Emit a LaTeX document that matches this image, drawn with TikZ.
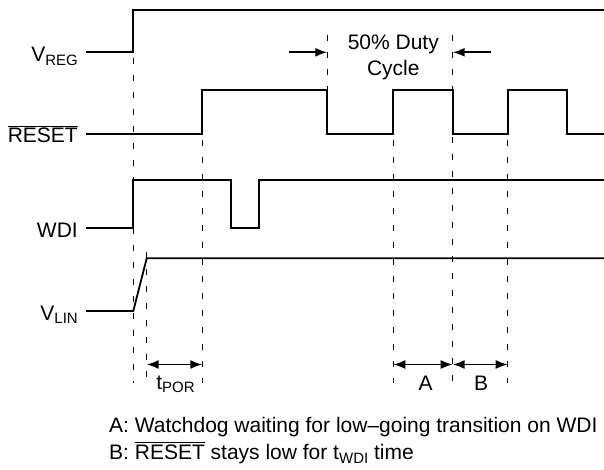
\documentclass[tikz,border=0pt]{standalone}
\usepackage{fontspec}
\setmainfont{Liberation Sans}
\usetikzlibrary{arrows.meta}

\newcommand\subtxt[1]{\raisebox{-3.5pt}{\fontsize{15}{15}\selectfont #1}}
\newcommand\ovl[1]{\leavevmode\vbox{\hrule height 0.9pt\kern 1.8pt\hbox{#1}}}

\begin{document}
\begin{tikzpicture}[x=1pt,y=-1pt,
    sig/.style={line width=1.8pt},
    guide/.style={line width=0.8pt,dash pattern=on 6pt off 11pt},
    dim/.style={line width=1.8pt,{Latex[length=12pt,width=9pt]}-{Latex[length=12pt,width=9pt]}},
    push/.style={line width=1.8pt,-{Latex[length=12pt,width=9pt]}},
    lbl/.style={inner sep=0pt,font=\fontsize{21}{25}\selectfont}]
    \useasboundingbox (0,0) rectangle (604,470);

    % signals
    \draw[sig] (86,52.3) -- (133.3,52.3) -- (133.3,10) -- (604,10);
    \draw[sig] (86,134.3) -- (202.3,134.3) |- (327.3,90) |- (393.3,134.3) |- (452.7,90)
        |- (507.7,134.3) |- (567.3,90) |- (604,134.3);
    \draw[sig] (86,228.3) -- (133.3,228.3) |- (231,180) |- (258.7,228.3) |- (604,180);
    \draw[sig] (86,311) -- (133.3,311) -- (146.7,258.3) -- (604,258.3);

    % dashed guides
    \foreach \x/\a/\b in {133.3/58/383, 146.7/252/383, 202.3/140/383, 327.3/35/90,
                          393.3/140/383, 452.7/35/383, 507.7/140/383}
        \draw[guide] (\x,\a) -- (\x,\b);

    % signal names
    \node[lbl,anchor=base east] (vreg) at (78,62) {V\subtxt{REG}};
    \node[lbl,anchor=base east] (reset) at (78,143) {\ovl{RESET}};
    \node[lbl,anchor=base east] (wdi) at (78,237) {WDI};
    \node[lbl,anchor=base east] (vlin) at (78,320) {V\subtxt{LIN}};

    % duty cycle
    \node[lbl,anchor=base] (duty) at (393.3,50) {50\% Duty};
    \node[lbl,anchor=base] (cycle) at (393.3,76) {Cycle};
    \coordinate (dl) at (289,52.3);
    \coordinate (dl') at (327.3,52.3);
    \coordinate (dr) at (490.7,52.3);
    \coordinate (dr') at (452.7,52.3);
    \draw[push] (dl) -- (dl');
    \draw[push] (dr) -- (dr');

    % timing intervals
    \coordinate (p1) at (146.7,364.5);
    \coordinate (p2) at (202.3,364.5);
    \coordinate (a1) at (393.3,364.5);
    \coordinate (a2) at (452.7,364.5);
    \coordinate (b2) at (507.7,364.5);
    \draw[dim] (p1) -- (p2);
    \draw[dim] (a1) -- (a2);
    \draw[dim] (a2) -- (b2);
    \node[lbl,anchor=base] (tpor) at (175.5,389) {t\subtxt{POR}};
    \node[lbl,anchor=base] (ta) at (425.7,390) {A};
    \node[lbl,anchor=base] (tb) at (481,390) {B};

    % notes
    \node[lbl,anchor=base west] (noteA) at (109,432.5)
        {A: Watchdog waiting for low\textendash going transition on WDI};
    \node[lbl,anchor=base west] (noteB) at (109,459.5)
        {B: \ovl{RESET} stays low for t\subtxt{WDI} time};
\end{tikzpicture}
\end{document}
